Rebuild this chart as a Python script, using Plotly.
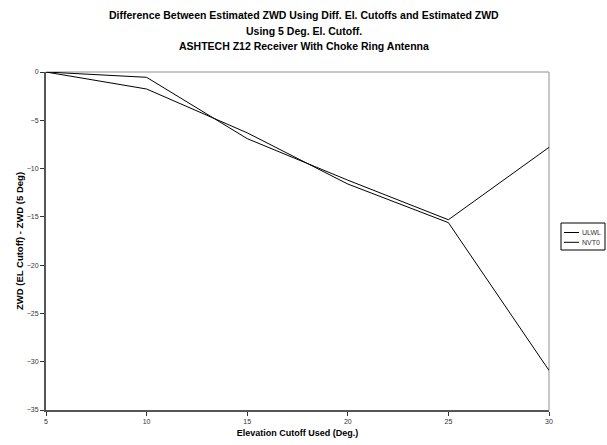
import plotly.graph_objects as go

elevation = [5, 10, 15, 20, 25, 30]
series_names = ["ULWL", "NVT0"]
ulwl = [0, -0.55, -6.9, -11.2, -15.3, -7.8]
nvt0 = [0, -1.76, -6.3, -11.6, -15.6, -30.9]
x_ticks = [5, 10, 15, 20, 25, 30]
y_ticks = [0, -5, -10, -15, -20, -25, -30, -35]
title_lines = [
    "Difference Between Estimated ZWD Using Diff. El. Cutoffs and Estimated ZWD",
    "Using 5 Deg. El. Cutoff.",
    "ASHTECH Z12 Receiver With Choke Ring Antenna",
]

W, H = 607, 445
ML, MR, MT, MB = 46, 58, 72, 35
PW, PH = W - ML - MR, H - MT - MB


def px_to_paper(px, py):
    return (px - ML) / PW, (H - MB - py) / PH


fig = go.Figure()
for name, vals in zip(series_names, [ulwl, nvt0]):
    fig.add_trace(go.Scatter(x=elevation, y=vals, mode="lines", name=name,
                             line=dict(color="black", width=1), showlegend=False))

# gray top and right frame
fig.add_shape(type="line", xref="paper", yref="paper", x0=0, x1=1, y0=1, y1=1,
              line=dict(color="#b4b4b4", width=1.5), layer="below")
fig.add_shape(type="line", xref="paper", yref="paper", x0=1, x1=1, y0=0, y1=1,
              line=dict(color="#b4b4b4", width=1.5), layer="below")

# title lines (centred on the page)
for i, line in enumerate(title_lines):
    tx, ty = px_to_paper(W / 2, 15 + i * 15.5)
    fig.add_annotation(xref="paper", yref="paper", x=tx, y=ty, text="<b>" + line + "</b>",
                       showarrow=False, xanchor="center", yanchor="middle",
                       font=dict(size=10.5, color="black"))

# compact legend box (drawn manually to fit the narrow right margin)
bx0, by0 = px_to_paper(561, 223)
bx1, by1 = px_to_paper(605, 250)
fig.add_shape(type="rect", xref="paper", yref="paper", x0=bx0, x1=bx1, y0=by1, y1=by0,
              line=dict(color="black", width=1), fillcolor="white")
for i, name in enumerate(series_names):
    row_y = 232.5 + i * 9.8
    lx0, ly = px_to_paper(564, row_y)
    lx1, _ = px_to_paper(579, row_y)
    tx, _ = px_to_paper(580, row_y)
    fig.add_shape(type="line", xref="paper", yref="paper", x0=lx0, x1=lx1, y0=ly, y1=ly,
                  line=dict(color="black", width=1))
    fig.add_annotation(xref="paper", yref="paper", x=tx, y=ly, text=name, showarrow=False,
                       xanchor="left", yanchor="middle",
                       font=dict(size=7, color="#333333"))

font_family = "Liberation Sans, Arial, sans-serif"

fig.update_layout(
    width=W, height=H,
    margin=dict(l=ML, r=MR, t=MT, b=MB, autoexpand=False),
    paper_bgcolor="white", plot_bgcolor="white",
    font=dict(family=font_family, color="black"),
    xaxis=dict(
        range=[5, 30], tickvals=x_ticks, showgrid=False, zeroline=False, automargin=False,
        showline=True, linecolor="#555555", linewidth=2,
        ticks="outside", ticklen=4, tickcolor="#333333", tickwidth=1,
        tickfont=dict(size=7, color="#333333"),
        title=dict(text="<b>Elevation Cutoff Used (Deg.)</b>", font=dict(size=9), standoff=5),
    ),
    yaxis=dict(
        range=[-35, 0], tickvals=y_ticks, showgrid=False, zeroline=False, automargin=False,
        showline=True, linecolor="#555555", linewidth=2,
        ticks="outside", ticklen=4, tickcolor="#333333", tickwidth=1,
        tickfont=dict(size=7, color="#333333"),
        title=dict(text="<b>ZWD (EL Cutoff) - ZWD (5 Deg)</b>", font=dict(size=9.5), standoff=1),
    ),
    showlegend=False,
)

fig.write_html("out.html", config={"displayModeBar": False},
               post_script="document.body.style.margin='0';")
